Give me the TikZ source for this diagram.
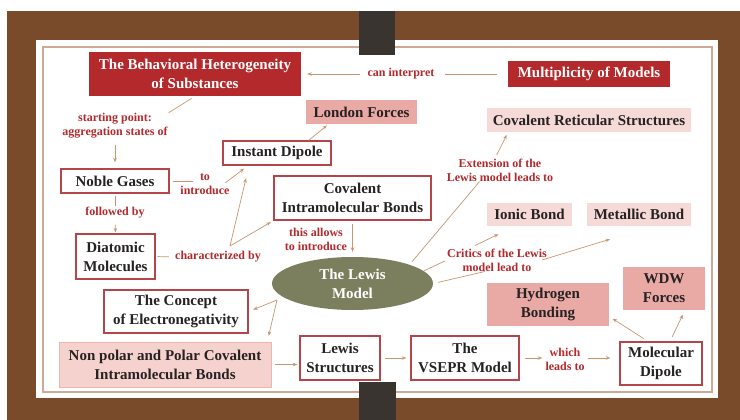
\documentclass[tikz,border=0pt]{standalone}
\usepackage{fontspec}
\setmainfont{Liberation Serif}
\usetikzlibrary{arrows.meta, positioning, calc, shapes.geometric}

\definecolor{wood}{HTML}{7A4B2A}
\definecolor{cardline}{HTML}{CDA996}
\definecolor{clipgrey}{HTML}{3A3430}
\definecolor{lwred}{HTML}{B3292C}
\definecolor{lwframe}{HTML}{B4454A}
\definecolor{lwpink}{HTML}{E9A9A5}
\definecolor{lwpale}{HTML}{F6DAD8}
\definecolor{lwrose}{HTML}{F5D2CE}
\definecolor{lwolive}{HTML}{7C7F5E}
\definecolor{lwtan}{HTML}{C9966E}
\definecolor{lwink}{HTML}{262222}

\tikzset{
  boxtxt/.style={align=center, inner sep=0pt, text=lwink, font=\fontsize{15}{19}\selectfont\bfseries},
  redbox/.style={boxtxt, fill=lwred, text=white},
  framebox/.style={boxtxt, draw=lwframe, line width=1.3pt, fill=white},
  pinkbox/.style={boxtxt, fill=lwpink},
  palebox/.style={boxtxt, fill=lwpale},
  lbl/.style={align=center, inner sep=0pt, text=lwred, font=\fontsize{12}{14}\selectfont\bfseries},
  lnk/.style={draw=lwtan, line width=0.7pt},
  arr/.style={lnk, ->},
}

\begin{document}
\begin{tikzpicture}[>={Stealth[length=4.5pt,width=3.5pt]}, x=1pt, y=-1pt]
  \useasboundingbox (0,0) rectangle (740,420);
  % board, card and clips
  \fill[wood] (7,11) rectangle (740,420);
  \fill[white] (36,40) rectangle (718,398);
  \draw[cardline, line width=1.4pt] (43,47) rectangle (712,392);
  \fill[clipgrey] (359,11) rectangle (395,55);
  \fill[clipgrey] (359,382) rectangle (396,420);

  % concepts
  \node[redbox, minimum width=212pt, minimum height=44pt] (behav) at (195,74) {The Behavioral Heterogeneity\\of  Substances};
  \node[redbox, minimum width=162pt, minimum height=26pt] (multi) at (589,74) {Multiplicity of  Models};
  \node[pinkbox, minimum width=111pt, minimum height=24pt] (london) at (361.5,112) {London Forces};
  \node[palebox, minimum width=204pt, minimum height=24pt] (reticular) at (589,120) {Covalent Reticular Structures};
  \node[framebox, minimum width=108pt, minimum height=24pt] (instant) at (277,153) {Instant Dipole};
  \node[framebox, minimum width=108pt, minimum height=24pt] (noble) at (115,181) {Noble Gases};
  \node[framebox, minimum width=157pt, minimum height=44pt] (covintra) at (352.5,198) {Covalent\\Intramolecular Bonds};
  \node[palebox, minimum width=85pt, minimum height=23pt] (ionic) at (529.5,214.5) {Ionic Bond};
  \node[palebox, minimum width=104pt, minimum height=23pt] (metallic) at (639,214.5) {Metallic Bond};
  \node[framebox, minimum width=79pt, minimum height=45pt] (diatomic) at (115.5,256.5) {Diatomic\\Molecules};
  \node[ellipse, boxtxt, fill=lwolive, text=white, minimum width=161pt, minimum height=53pt] (lewis) at (352.5,283.5) {The Lewis\\Model};
  \node[pinkbox, minimum width=122pt, minimum height=43pt] (hbond) at (548,304.5) {Hydrogen\\Bonding};
  \node[pinkbox, minimum width=82pt, minimum height=43pt] (wdw) at (664,288.5) {WDW\\Forces};
  \node[framebox, minimum width=144pt, minimum height=43pt] (electroneg) at (176,311.5) {The Concept\\of  Electronegativity};
  \node[boxtxt, fill=lwrose, draw=lwpink!70!lwrose, line width=0.6pt, minimum width=212pt, minimum height=45pt] (nonpolar) at (165,364.5) {Non polar and Polar Covalent\\Intramolecular Bonds};
  \node[framebox, minimum width=80pt, minimum height=44pt] (lewisstr) at (340,358) {Lewis\\Structures};
  \node[framebox, minimum width=108pt, minimum height=44pt] (vsepr) at (465,358) {The\\VSEPR Model};
  \node[framebox, minimum width=82pt, minimum height=43pt] (moldip) at (661,363.5) {Molecular\\Dipole};

  % link phrases
  \node[lbl] (canint) at (401,74) {can interpret};
  \node[lbl] (startpt) at (115,126) {starting point:\\aggregation  states of};
  \node[lbl] (tointro) at (205,184) {to\\introduce};
  \node[lbl] (follow) at (115,213) {followed by};
  \node[lbl] (charby) at (218,257) {characterized by};
  \node[lbl] (allows) at (316,239) {this allows\\to introduce};
  \node[lbl] (extension) at (500,170) {Extension of  the\\Lewis model leads  to};
  \node[lbl] (critics) at (497,260) {Critics of  the Lewis\\model lead  to};
  \node[lbl] (whichleads) at (565,359) {which\\leads to};

  \coordinate (tostub) at (193,181);
  \coordinate (cbfork) at (230,246);
  \coordinate (lwfork) at (277,300);

  % connectors
  \draw[lnk, shorten <=11pt, shorten >=10pt] (multi.west) -- (canint.east);
  \draw[arr, shorten <=7pt, shorten >=6pt] (canint.west) -- (behav.east);
  \draw[lnk, shorten <=4pt, shorten >=1pt] (behav.south) -- (startpt.north east);
  \draw[arr, shorten <=6pt, shorten >=6pt] (startpt.south) -- (noble.north);
  \draw[arr, shorten >=2pt] ([xshift=-23pt]instant.north east) -- ([xshift=-33pt]london.south);
  \draw[lnk, shorten <=3pt] (noble.east) -- (tostub);
  \draw[arr, shorten <=2pt, shorten >=5pt] ([xshift=-6pt]tointro.east) -- ([xshift=-29pt]instant.south);
  \draw[lnk, shorten <=2pt, shorten >=1pt] (noble.south) -- (follow.north);
  \draw[arr, shorten <=6pt, shorten >=1pt] (follow.south) -- (diatomic.north);
  \draw[lnk, shorten <=2pt, shorten >=6pt] (diatomic.east) -- (charby.west);
  \draw[arr, shorten >=13pt] (cbfork) -- ([xshift=-28pt]instant.south);
  \draw[arr, shorten >=3pt] (cbfork) -- (covintra.south west);
  \draw[arr, shorten <=3pt, shorten >=5pt] (covintra.south) -- (lewis.north);
  \draw[lnk, shorten <=4pt] (lewis.north east) -- ([xshift=33pt]extension.south west);
  \draw[arr, shorten <=4pt, shorten >=3pt] ([xshift=-5pt]extension.north) -- ([xshift=-81pt]reticular.south);
  \draw[lnk, shorten >=2pt] (lewis.10) -- (critics.west);
  \draw[arr] ([xshift=-22pt,yshift=3pt]critics.north) -- ([xshift=-31pt,yshift=-8pt]ionic.south);
  \draw[lnk, shorten <=5pt] (lewis.east) -- ([xshift=-12pt]critics.south);
  \draw[arr] ([xshift=-5pt]critics.east) -- ([xshift=-29pt,yshift=-13pt]metallic.south);
  \draw[arr, shorten >=5pt] (lwfork) -- (electroneg.east);
  \draw[arr, shorten >=6pt] (lwfork) -- ([xshift=-4pt]nonpolar.north east);
  \draw[arr, shorten <=4pt, shorten >=2pt] (nonpolar.east) -- (nonpolar.east -| lewisstr.west);
  \draw[arr, shorten <=4pt, shorten >=4pt] (lewisstr.east) -- (vsepr.west);
  \draw[arr, shorten <=5pt, shorten >=3pt] (vsepr.east) -- (vsepr.east -| whichleads.west);
  \draw[arr, shorten <=3pt, shorten >=9pt] (whichleads.east |- vsepr.east) -- (vsepr.east -| moldip.west);
  \draw[arr, shorten <=5pt, shorten >=4pt] ([xshift=-13pt]moldip.north) -- ([yshift=-12pt]hbond.east);
  \draw[arr, shorten <=5pt, shorten >=5pt] ([xshift=9pt]moldip.north) -- ([xshift=21pt]wdw.south);
\end{tikzpicture}
\end{document}
